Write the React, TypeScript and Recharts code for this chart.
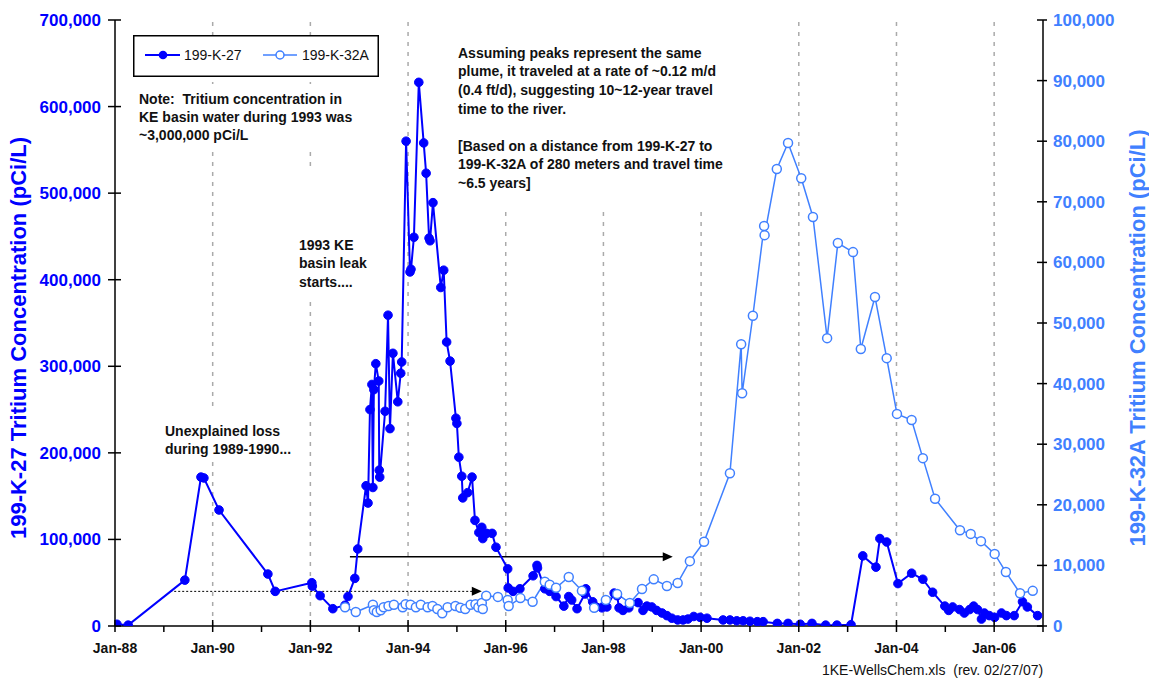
import React from "react";
import { LineChart, Line, XAxis, YAxis, ReferenceLine, ReferenceDot, Legend, Customized } from "recharts";

const FONT = '"Liberation Sans", Arial, sans-serif';
const K27_COLOR = "#0000ff";
const K32A_COLOR = "#4080ff";

// 199-K-27 (left axis), sample date as decimal year
const k27Years = [
  1988.04, 1988.27, 1989.43, 1989.76, 1989.82, 1990.13, 1991.13, 1991.28, 1992.03, 1992.04,
  1992.2, 1992.46, 1992.71, 1992.77, 1992.91, 1992.97, 1993.14, 1993.18, 1993.22, 1993.26,
  1993.28, 1993.3, 1993.34, 1993.4, 1993.41, 1993.42, 1993.53, 1993.59, 1993.63, 1993.69,
  1993.79, 1993.85, 1993.87, 1993.96, 1994.04, 1994.06, 1994.12, 1994.22, 1994.32, 1994.37,
  1994.43, 1994.45, 1994.51, 1994.67, 1994.73, 1994.79, 1994.86, 1994.98, 1995.0, 1995.04,
  1995.1, 1995.12, 1995.22, 1995.31, 1995.37, 1995.45, 1995.51, 1995.53, 1995.61, 1995.72,
  1995.8, 1996.04, 1996.05, 1996.15, 1996.29, 1996.56, 1996.64, 1996.65, 1996.8, 1996.9,
  1997.03, 1997.19, 1997.29, 1997.35, 1997.46, 1997.62, 1997.64, 1997.78, 1997.85, 1997.97,
  1998.07, 1998.22, 1998.28, 1998.32, 1998.4, 1998.52, 1998.71, 1998.81, 1998.89, 1998.99,
  1999.09, 1999.2, 1999.3, 1999.4, 1999.52, 1999.63, 1999.73, 1999.85, 1999.98, 2000.12,
  2000.45, 2000.59, 2000.73, 2000.86, 2001.0, 2001.15, 2001.27, 2001.56, 2001.78, 2002.03,
  2002.27, 2002.55, 2002.78, 2003.07, 2003.31, 2003.58, 2003.66, 2003.8, 2004.03, 2004.31,
  2004.54, 2004.74, 2004.99, 2005.07, 2005.15, 2005.29, 2005.39, 2005.5, 2005.58, 2005.66,
  2005.74, 2005.8, 2005.9, 2006.01, 2006.15, 2006.25, 2006.41, 2006.58, 2006.68, 2006.89,
];
const k27Values = [
  2000, 1000, 53000, 172000, 171000, 134000, 60000, 40000, 50000, 46000,
  35000, 20000, 24000, 34000, 55000, 89000, 162000, 142000, 250000, 279000,
  160000, 273000, 303000, 283000, 180000, 172000, 248000, 359000, 228000, 315000,
  259000, 292000, 305000, 560000, 409000, 412000, 449000, 628000, 558000, 523000,
  448000, 445000, 489000, 391000, 411000, 328000, 306000, 240000, 234000, 195000,
  173000, 148000, 154000, 172000, 122000, 108000, 114000, 101000, 107000, 107000,
  91000, 66000, 44000, 40000, 43000, 58000, 70000, 67000, 43000, 40000,
  34000, 23000, 34000, 30000, 20000, 37000, 43000, 28000, 22000, 21000,
  22000, 38000, 35000, 21000, 18000, 21000, 27000, 18000, 23000, 22000,
  18000, 15000, 12000, 9000, 7000, 7000, 8000, 11000, 10000, 9000,
  7000, 7000, 6000, 6000, 5500, 5000, 5000, 3000, 3000, 2000,
  3000, 1000, 1000, 1500, 81000, 68000, 101000, 97000, 49000, 61000,
  54000, 39000, 23000, 18000, 22000, 19000, 15000, 19000, 23000, 19000,
  8000, 15000, 12000, 10000, 15000, 12000, 12000, 28000, 22000, 12000,
];

// 199-K-32A (right axis)
const k32aYears = [
  1992.71, 1992.93, 1993.28, 1993.3, 1993.36, 1993.44, 1993.5, 1993.6, 1993.71, 1993.89,
  1993.95, 1994.05, 1994.16, 1994.26, 1994.4, 1994.5, 1994.6, 1994.7, 1994.81, 1994.97,
  1995.07, 1995.17, 1995.28, 1995.38, 1995.44, 1995.51, 1995.53, 1995.6, 1995.84, 1996.04,
  1996.06, 1996.3, 1996.55, 1996.8, 1996.9, 1997.03, 1997.29, 1997.56, 1997.81, 1998.05,
  1998.28, 1998.54, 1998.79, 1999.03, 1999.3, 1999.52, 1999.77, 2000.06, 2000.59, 2000.82,
  2000.84, 2001.06, 2001.29, 2001.3, 2001.55, 2001.78, 2002.05, 2002.29, 2002.58, 2002.8,
  2003.11, 2003.27, 2003.56, 2003.8, 2004.01, 2004.31, 2004.54, 2004.79, 2005.3, 2005.52,
  2005.73, 2006.01, 2006.24, 2006.53, 2006.79,
];
const k32aValues = [
  3100, 2300, 3500, 2600, 2300, 2600, 3100, 3300, 3500, 3100,
  3600, 3500, 3100, 3500, 3100, 3300, 2800, 2100, 3100, 3300,
  3000, 2800, 3500, 3600, 3100, 3800, 2800, 5000, 4800, 4300,
  3300, 4600, 4000, 7300, 6800, 6300, 8100, 5800, 3000, 4300,
  5300, 3800, 6100, 7700, 6600, 7100, 10700, 13900, 25200, 46500,
  38400, 51200, 66000, 64500, 75400, 79700, 73900, 67500, 47500, 63200,
  61700, 45700, 54300, 44200, 35000, 34000, 27700, 21000, 15800, 15200,
  14000, 11900, 8900, 5400, 5800,
];

const yearTicks = [
  1988, 1989, 1990, 1991, 1992, 1993, 1994, 1995, 1996, 1997,
  1998, 1999, 2000, 2001, 2002, 2003, 2004, 2005, 2006, 2007,
];
const gridYears = [1990, 1992, 1994, 1996, 1998, 2000, 2002, 2004, 2006];
const leftTicks = [0, 100000, 200000, 300000, 400000, 500000, 600000, 700000];
const rightTicks = [0, 10000, 20000, 30000, 40000, 50000, 60000, 70000, 80000, 90000, 100000];

// annotation arrows (decimal year span, left-axis level)
const solidArrow = { from: 1992.81, to: 1999.42, level: 80000 };
const dottedArrow = { from: 1989.13, to: 1995.51, level: 40000 };

const k27Data = k27Years.map((year, i) => ({ year, value: k27Values[i] }));
const k32aData = k32aYears.map((year, i) => ({ year, value: k32aValues[i] }));

const fmt = (v: number) => v.toLocaleString("en-US");

function XTick({ x, y, payload }: any) {
  const yr = payload.value as number;
  const major = yr % 2 === 0;
  return (
    <g>
      <line x1={x} x2={x} y1={major ? y - 6 : y} y2={y + 6} stroke="#000" strokeWidth={1.5} />
      {major && (
        <text x={x} y={y + 27} textAnchor="middle" fontFamily={FONT} fontWeight="bold" fontSize={14} fill="#111">
          {"Jan-" + String(yr).slice(2)}
        </text>
      )}
    </g>
  );
}

function LeftTick({ x, y, payload }: any) {
  return (
    <g>
      <line x1={x - 7} x2={x + 6} y1={y} y2={y} stroke="#000" strokeWidth={1.5} />
      <text x={x - 14} y={y + 6} textAnchor="end" fontFamily={FONT} fontWeight="bold" fontSize={17} fill={K27_COLOR}>
        {fmt(payload.value)}
      </text>
    </g>
  );
}

function RightTick({ x, y, payload }: any) {
  return (
    <g>
      <line x1={x - 6} x2={x + 4} y1={y} y2={y} stroke="#000" strokeWidth={1.5} />
      <text x={x + 10} y={y + 6} textAnchor="start" fontFamily={FONT} fontWeight="bold" fontSize={17} fill={K32A_COLOR}>
        {fmt(payload.value)}
      </text>
    </g>
  );
}

function Arrowhead(props: any) {
  const { cx, cy } = props;
  return <path d={`M${cx},${cy} L${cx - 10},${cy - 4.5} L${cx - 10},${cy + 4.5} Z`} fill="#000" />;
}

function LegendBox() {
  return (
    <svg width={246} height={42} style={{ display: "block" }}>
      <rect x={0.75} y={0.75} width={244.5} height={40.5} fill="#fff" stroke="#000" strokeWidth={1.5} />
      <line x1={12} x2={47} y1={20} y2={20} stroke={K27_COLOR} strokeWidth={2} />
      <circle cx={30} cy={20} r={4.3} fill={K27_COLOR} />
      <text x={51} y={25} fontFamily={FONT} fontSize={14} fill="#111">199-K-27</text>
      <line x1={130} x2={164} y1={20} y2={20} stroke={K32A_COLOR} strokeWidth={1.5} />
      <circle cx={147} cy={20} r={4} fill="#fff" stroke={K32A_COLOR} strokeWidth={1.5} />
      <text x={169} y={25} fontFamily={FONT} fontSize={14} fill="#111">199-K-32A</text>
    </svg>
  );
}

const noteLines = ["Note:  Tritium concentration in", "KE basin water during 1993 was", "~3,000,000 pCi/L"];
const plumeLines = [
  "Assuming peaks represent the same",
  "plume, it traveled at a rate of ~0.12 m/d",
  "(0.4 ft/d), suggesting 10~12-year travel",
  "time to the river.",
  "",
  "[Based on a distance from 199-K-27 to",
  "199-K-32A of 280 meters and travel time",
  "~6.5 years]",
];
const leakLines = ["1993 KE", "basin leak", "starts...."];
const lossLines = ["Unexplained loss", "during 1989-1990..."];

// white-filled text boxes, as in the spreadsheet (they hide the gridlines behind them)
function TextBox({ left, top, width, height, padLeft, padTop, lineHeight, lines }: any) {
  return (
    <div
      style={{
        position: "absolute",
        left,
        top,
        width,
        height,
        boxSizing: "border-box",
        paddingLeft: padLeft,
        paddingTop: padTop,
        background: "#fff",
        fontFamily: FONT,
        fontWeight: "bold",
        fontSize: 14,
        lineHeight: lineHeight + "px",
        color: "#111",
        whiteSpace: "pre",
      }}
    >
      {lines.map((l: string, i: number) => (
        <div key={i} style={{ height: lineHeight }}>
          {l || "\u00a0"}
        </div>
      ))}
    </div>
  );
}

function AxisTitles() {
  return (
    <g>
      <text
        transform="translate(26, 338) rotate(-90)"
        textAnchor="middle"
        fontFamily={FONT}
        fontWeight="bold"
        fontSize={22}
        fill={K27_COLOR}
      >
        199-K-27 Tritium Concentration (pCi/L)
      </text>
      <text
        transform="translate(1145, 338) rotate(-90)"
        textAnchor="middle"
        fontFamily={FONT}
        fontWeight="bold"
        fontSize={22}
        fill={K32A_COLOR}
      >
        199-K-32A Tritium Concentration (pCi/L)
      </text>
      <text x={822} y={675} fontFamily={FONT} fontSize={14} fill="#111" style={{ whiteSpace: "pre" }}>
        1KE-WellsChem.xls  (rev. 02/27/07)
      </text>
    </g>
  );
}

export default function App() {
  return (
    <div style={{ position: "absolute", left: 0, top: 0, width: 1149, height: 680, background: "#fff" }}>
      <LineChart width={1149} height={680} margin={{ top: 20, right: 0, bottom: 0, left: 0 }}>
        <XAxis
          dataKey="year"
          type="number"
          domain={[1988, 2007]}
          ticks={yearTicks}
          interval={0}
          height={54}
          tick={<XTick />}
          tickLine={false}
          tickSize={0}
          tickMargin={0}
          axisLine={{ stroke: "#000", strokeWidth: 1.5 }}
          allowDataOverflow
        />
        <YAxis
          yAxisId="left"
          orientation="left"
          width={115}
          domain={[0, 700000]}
          ticks={leftTicks}
          interval={0}
          tick={<LeftTick />}
          tickLine={false}
          tickSize={0}
          tickMargin={0}
          axisLine={{ stroke: "#000", strokeWidth: 1.5 }}
          allowDataOverflow
        />
        <YAxis
          yAxisId="right"
          orientation="right"
          width={106}
          domain={[0, 100000]}
          ticks={rightTicks}
          interval={0}
          tick={<RightTick />}
          tickLine={false}
          tickSize={0}
          tickMargin={0}
          axisLine={{ stroke: "#000", strokeWidth: 1.5 }}
          allowDataOverflow
        />
        {gridYears.map((yr) => (
          <ReferenceLine key={yr} yAxisId="left" x={yr} stroke="#aaaaaa" strokeWidth={1.5} strokeDasharray="4 6" />
        ))}
        <ReferenceLine
          yAxisId="left"
          segment={[
            { x: dottedArrow.from, y: dottedArrow.level },
            { x: dottedArrow.to - 0.15, y: dottedArrow.level },
          ]}
          stroke="#000"
          strokeWidth={1}
          strokeDasharray="2 2"
        />
        <ReferenceDot yAxisId="left" x={dottedArrow.to} y={dottedArrow.level} shape={<Arrowhead />} />
        <ReferenceLine
          yAxisId="left"
          segment={[
            { x: solidArrow.from, y: solidArrow.level },
            { x: solidArrow.to - 0.15, y: solidArrow.level },
          ]}
          stroke="#000"
          strokeWidth={1.5}
        />
        <ReferenceDot yAxisId="left" x={solidArrow.to} y={solidArrow.level} shape={<Arrowhead />} />
        <Customized component={AxisTitles} />
        <Line
          yAxisId="left"
          data={k27Data}
          dataKey="value"
          name="199-K-27"
          type="linear"
          stroke={K27_COLOR}
          strokeWidth={2}
          dot={{ r: 4.3, fill: K27_COLOR, stroke: K27_COLOR, strokeWidth: 1 }}
          isAnimationActive={false}
        />
        <Line
          yAxisId="right"
          data={k32aData}
          dataKey="value"
          name="199-K-32A"
          type="linear"
          stroke={K32A_COLOR}
          strokeWidth={1.5}
          dot={{ r: 4.5, fill: "#fff", stroke: K32A_COLOR, strokeWidth: 1.5 }}
          isAnimationActive={false}
        />
        <Legend
          content={<LegendBox />}
          layout="horizontal"
          verticalAlign="middle"
          align="center"
          wrapperStyle={{ left: 133, top: 35, width: 246, height: 42 }}
        />
      </LineChart>
      <TextBox left={134} top={84} width={220} height={66} padLeft={5} padTop={6.15} lineHeight={18} lines={noteLines} />
      <TextBox left={450} top={21} width={262} height={186} padLeft={8} padTop={22.85} lineHeight={18.6} lines={plumeLines} />
      <TextBox left={292} top={170} width={74} height={130} padLeft={7} padTop={65.85} lineHeight={18.6} lines={leakLines} />
      <TextBox left={158} top={412} width={136} height={50} padLeft={7} padTop={9.85} lineHeight={18.6} lines={lossLines} />
    </div>
  );
}
